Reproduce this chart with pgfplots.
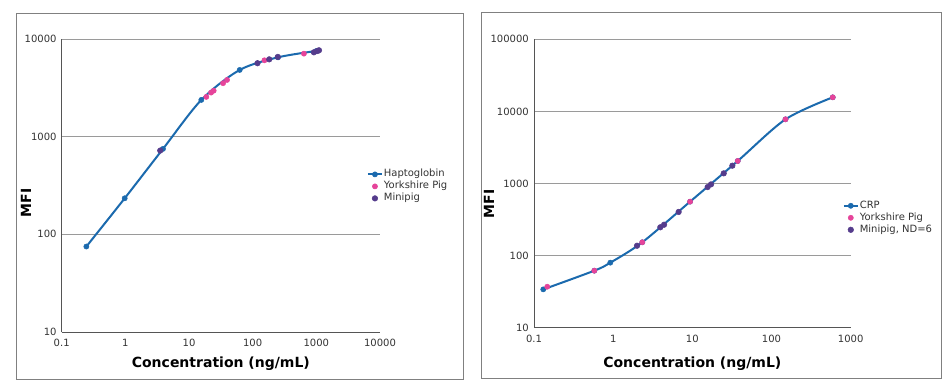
\documentclass[border=0pt]{standalone}
\usepackage{pgfplots}
\pgfplotsset{compat=1.18}
\usepackage{fontspec}
\setmainfont{DejaVu Sans}
\definecolor{cblue}{HTML}{1B6AAE}
\definecolor{cpink}{HTML}{E6449A}
\definecolor{cpurple}{HTML}{553C8C}
\definecolor{cgrid}{HTML}{9A9A9A}
\definecolor{caxis}{HTML}{555555}
\definecolor{ctext}{HTML}{333333}
\definecolor{cframe}{HTML}{808080}
\pgfplotsset{
  every axis/.append style={
    scale only axis,
    axis x line=bottom, axis y line=left,
    axis line style={caxis, line width=0.9pt, -},
    ymajorgrids, major grid style={cgrid, line width=0.9pt},
    major tick length=0pt, minor tick length=0pt,
    tick label style={font=\fontsize{10}{11}\selectfont, text=ctext, inner sep=0pt},
    xticklabel style={anchor=base, yshift=-14.5pt},
    yticklabel style={anchor=east, xshift=-5pt},
    xlabel style={font=\fontsize{14}{15}\selectfont\bfseries, text=black},
    ylabel style={font=\fontsize{14}{15}\selectfont\bfseries, text=black},
    legend cell align=left,
    legend style={draw=none, fill=none, inner sep=0pt, outer sep=0pt,
      font=\fontsize{10}{11}\selectfont, text=ctext,
      nodes={inner sep=1pt, text height=6.5pt, text depth=1.5pt},
      row sep=2pt, column sep=0pt},
    legend image code/.code={\draw[mark repeat=2,mark phase=2,#1] plot coordinates {(0pt,0pt) (7pt,0pt) (14pt,0pt)};},
    clip=false,
  },
}
\tikzset{
  mycurve/.style={color=cblue, line width=2pt, smooth, mark=*, mark size=2.6pt, mark options={solid, line width=0.5pt, fill=cblue, draw=cblue}},
  mypink/.style={only marks, mark=*, mark size=2.6pt, mark options={line width=0.5pt, fill=cpink, draw=cpink}},
  mypurple/.style={only marks, mark=*, mark size=2.8pt, mark options={line width=0.5pt, fill=cpurple, draw=cpurple}},
}
\begin{document}
\begin{tikzpicture}
\path[use as bounding box, fill=white] (0pt,0pt) rectangle (950pt,390pt);
\draw[cframe, line width=0.9pt] (16pt,11pt) rectangle (463pt,377pt);
\draw[cframe, line width=0.9pt] (481pt,12pt) rectangle (941pt,378pt);
% Left panel
\begin{axis}[
  xmode=log, ymode=log,
  at={(61.7pt,58pt)}, anchor=south west,
  width=318.3pt, height=293pt,
  xmin=0.1, xmax=10000, ymin=10, ymax=10000,
  xtick={0.1,1,10,100,1000,10000},
  xticklabels={0.1,1,10,100,1000,10000},
  ytick={10,100,1000,10000},
  yticklabels={10,100,1000,10000},
  minor xtick={}, minor ytick={},
  xlabel={Concentration (ng/mL)},
  xlabel style={at={(axis description cs:0.5,0)}, anchor=center, yshift=-32pt},
  ylabel={MFI},
  ylabel style={at={(axis description cs:-0.112,0.44)}, anchor=center, rotate=0},
  legend style={at={(axis description cs:0.959,0.555)}, anchor=north west},
]
\addplot[mycurve] coordinates {
 (0.244,75) (0.977,234) (3.9,750) (15.6,2378) (62.5,4820) (250,6490) (1000,7540)
};
\addlegendentry{Haptoglobin}
\addplot[mypink] coordinates {
 (18.7,2553) (22.2,2825) (24.4,2958) (34.3,3527) (39.6,3810) (153,6050) (638,7080)
};
\addlegendentry{Yorkshire Pig}
\addplot[mypurple] coordinates {
 (3.53,721) (119,5650) (182,6190) (248,6550) (916,7310) (1037,7540) (1100,7660)
};
\addlegendentry{Minipig}
\end{axis}
% Right panel
\begin{axis}[
  xmode=log, ymode=log,
  at={(534pt,62.3pt)}, anchor=south west,
  width=316.7pt, height=288.4pt,
  xmin=0.1, xmax=1000, ymin=10, ymax=100000,
  xtick={0.1,1,10,100,1000},
  xticklabels={0.1,1,10,100,1000},
  ytick={10,100,1000,10000,100000},
  yticklabels={10,100,1000,10000,100000},
  minor xtick={}, minor ytick={},
  xlabel={Concentration (ng/mL)},
  xlabel style={at={(axis description cs:0.5,0)}, anchor=center, yshift=-36pt},
  ylabel={MFI},
  ylabel style={at={(axis description cs:-0.142,0.43)}, anchor=center, rotate=0},
  legend style={at={(axis description cs:0.975,0.44)}, anchor=north west},
]
\addplot[mycurve] coordinates {
 (0.131,34) (0.578,61.8) (0.92,79.8) (2.33,153) (9.36,560) (37.4,2051) (150,7763) (593,15670)
};
\addlegendentry{CRP}
\addplot[mypink] coordinates {
 (0.147,37) (0.578,61.8) (2.33,153) (9.36,560) (37.4,2051) (150,7763) (593,15670)
};
\addlegendentry{Yorkshire Pig}
\addplot[mypurple] coordinates {
 (2.0,137) (3.94,247) (4.39,268) (6.71,403) (15.6,893) (17.2,972) (24.9,1383) (32,1766)
};
\addlegendentry{Minipig, ND=6}
\end{axis}
\end{tikzpicture}
\end{document}
